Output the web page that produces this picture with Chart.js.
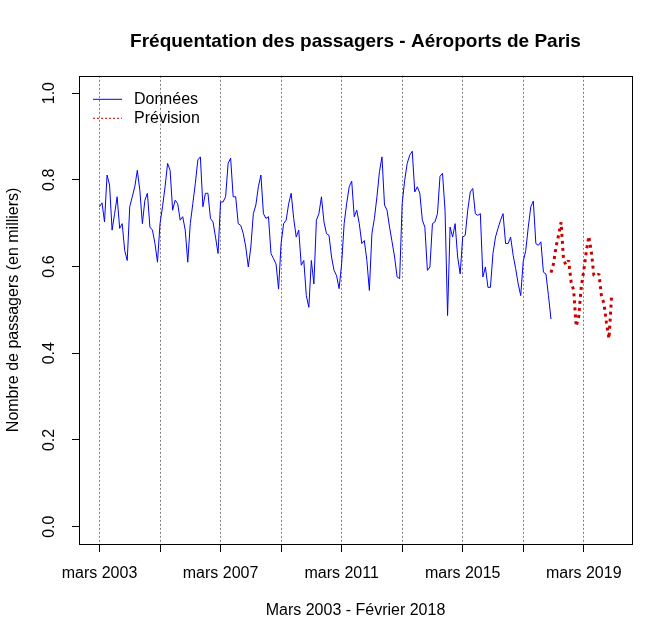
<!DOCTYPE html>
<html>
<head>
<meta charset="utf-8">
<script src="https://cdn.jsdelivr.net/npm/chart.js@4"></script>
<style>body{margin:0;background:#fff}</style>
</head>
<body>
<canvas id="chart" width="671" height="642"></canvas>
<script>
// Fréquentation mensuelle, mars 2003 - février 2018 (180 mois)
const donnees = [
    0.738, 0.747, 0.703, 0.811, 0.788, 0.684, 0.722, 0.761, 0.688, 0.699, 0.637, 0.614,
    0.738, 0.761, 0.784, 0.822, 0.776, 0.699, 0.753, 0.769, 0.691, 0.684, 0.653, 0.610,
    0.699, 0.738, 0.784, 0.838, 0.822, 0.730, 0.753, 0.745, 0.707, 0.715, 0.684, 0.610,
    0.699, 0.745, 0.792, 0.846, 0.853, 0.738, 0.769, 0.769, 0.711, 0.703, 0.668, 0.630,
    0.749, 0.749, 0.761, 0.838, 0.850, 0.761, 0.761, 0.699, 0.695, 0.676, 0.645, 0.599,
    0.645, 0.722, 0.742, 0.784, 0.811, 0.722, 0.711, 0.715, 0.630, 0.618, 0.606, 0.548,
    0.653, 0.699, 0.707, 0.745, 0.769, 0.711, 0.668, 0.684, 0.603, 0.614, 0.533, 0.506,
    0.614, 0.560, 0.707, 0.722, 0.761, 0.703, 0.676, 0.672, 0.622, 0.591, 0.579, 0.549,
    0.606, 0.699, 0.745, 0.784, 0.797, 0.715, 0.730, 0.699, 0.653, 0.660, 0.614, 0.545,
    0.676, 0.711, 0.761, 0.819, 0.853, 0.742, 0.730, 0.691, 0.657, 0.622, 0.576, 0.572,
    0.745, 0.799, 0.838, 0.857, 0.866, 0.772, 0.784, 0.769, 0.707, 0.691, 0.591, 0.599,
    0.699, 0.703, 0.722, 0.808, 0.815, 0.730, 0.487, 0.691, 0.668, 0.699, 0.622, 0.583,
    0.668, 0.672, 0.730, 0.772, 0.780, 0.722, 0.718, 0.722, 0.576, 0.599, 0.552, 0.552,
    0.630, 0.668, 0.688, 0.707, 0.722, 0.653, 0.653, 0.668, 0.626, 0.595, 0.560, 0.533,
    0.612, 0.637, 0.691, 0.738, 0.751, 0.653, 0.649, 0.657, 0.587, 0.583, 0.533, 0.479
];

// Prévision, tracée à partir du dernier mois observé
const debutPrevision = 179;
const prevision = [
    0.586,
    0.606, 0.645, 0.672, 0.702, 0.614, 0.604, 0.614, 0.564, 0.545, 0.462, 0.485, 0.553,
    0.591, 0.634, 0.670, 0.634, 0.580, 0.578, 0.583, 0.533, 0.515, 0.470, 0.434, 0.529
];

// axes (x = mois depuis mars 2003)
const xTicks = [0, 24, 48, 72, 96, 120, 144, 168, 192];
const xLabels = ['mars 2003', '', 'mars 2007', '', 'mars 2011', '', 'mars 2015', '', 'mars 2019'];
const yTicks = [0, 0.2, 0.4, 0.6, 0.8, 1.0];

Chart.defaults.font.family = '"Liberation Sans", Arial, sans-serif';
Chart.defaults.font.size = 16;
Chart.defaults.color = '#000';

// cadre autour de la zone de tracé
const boxPlugin = {
    id: 'box',
    afterDraw(chart) {
        const { ctx, chartArea: a } = chart;
        ctx.save();
        ctx.strokeStyle = '#000';
        ctx.lineWidth = 1;
        ctx.setLineDash([]);
        ctx.strokeRect(Math.round(a.left) + 0.5, Math.round(a.top) + 0.5,
            Math.round(a.right - a.left), Math.round(a.bottom - a.top));
        ctx.restore();
    }
};

// légende en haut à gauche, sans cadre
const legendPlugin = {
    id: 'innerLegend',
    afterDraw(chart) {
        const { ctx, chartArea: a } = chart;
        ctx.save();
        chart.data.datasets.forEach((ds, k) => {
            const y = a.top + 23 + k * 19;
            ctx.beginPath();
            ctx.strokeStyle = ds.borderColor;
            ctx.lineWidth = 1;
            ctx.setLineDash(k === 0 ? [] : [2, 2]);
            ctx.moveTo(a.left + 14, y + 0.5);
            ctx.lineTo(a.left + 43, y + 0.5);
            ctx.stroke();
            ctx.setLineDash([]);
            ctx.fillStyle = '#000';
            ctx.font = '16px "Liberation Sans", Arial, sans-serif';
            ctx.textBaseline = 'middle';
            ctx.fillText(ds.label, a.left + 55, y + 1);
        });
        ctx.restore();
    }
};

new Chart(document.getElementById('chart'), {
    type: 'line',
    data: {
        datasets: [{
            label: 'Données',
            data: donnees.map((v, i) => ({ x: i, y: v })),
            borderColor: '#0000FF',
            borderWidth: 1,
            pointRadius: 0,
            tension: 0
        }, {
            label: 'Prévision',
            data: prevision.map((v, i) => ({ x: debutPrevision + i, y: v })),
            borderColor: '#CC0000',
            borderWidth: 3,
            borderDash: [3, 4],
            borderJoinStyle: 'bevel',
            borderCapStyle: 'butt',
            pointRadius: 0,
            tension: 0
        }]
    },
    options: {
        responsive: false,
        animation: false,
        layout: { padding: { left: 0, right: 39, top: 0, bottom: 0 } },
        plugins: {
            legend: { display: false },
            tooltip: { enabled: false },
            title: {
                display: true,
                text: 'Fréquentation des passagers - Aéroports de Paris',
                fullSize: false,
                color: '#000',
                font: { size: 19, weight: 'bold' },
                padding: { top: 30, bottom: 23 }
            }
        },
        scales: {
            x: {
                type: 'linear',
                min: -8.12,
                max: 211.12,
                afterBuildTicks: s => { s.ticks = xTicks.map(v => ({ value: v })); },
                afterFit: s => { s.height = 98; },
                ticks: {
                    autoSkip: false,
                    maxRotation: 0,
                    padding: 12,
                    callback: (v, i) => xLabels[i]
                },
                grid: { color: '#808080', tickLength: 8, tickColor: '#000' },
                border: { display: false, dash: [2, 2] },
                title: {
                    display: true,
                    text: 'Mars 2003 - Février 2018',
                    padding: { top: 0, bottom: 22 }
                }
            },
            y: {
                min: -0.04,
                max: 1.04,
                afterBuildTicks: s => { s.ticks = yTicks.map(v => ({ value: v })); },
                afterFit: s => { s.width = 79; },
                ticks: {
                    minRotation: 90,
                    maxRotation: 90,
                    crossAlign: 'center',
                    padding: 11,
                    callback: v => v.toFixed(1)
                },
                grid: { drawOnChartArea: false, tickLength: 7, tickColor: '#000' },
                border: { display: false },
                title: {
                    display: true,
                    text: 'Nombre de passagers (en milliers)',
                    padding: { top: 4, bottom: 0 }
                }
            }
        }
    },
    plugins: [boxPlugin, legendPlugin]
});
</script>
</body>
</html>
